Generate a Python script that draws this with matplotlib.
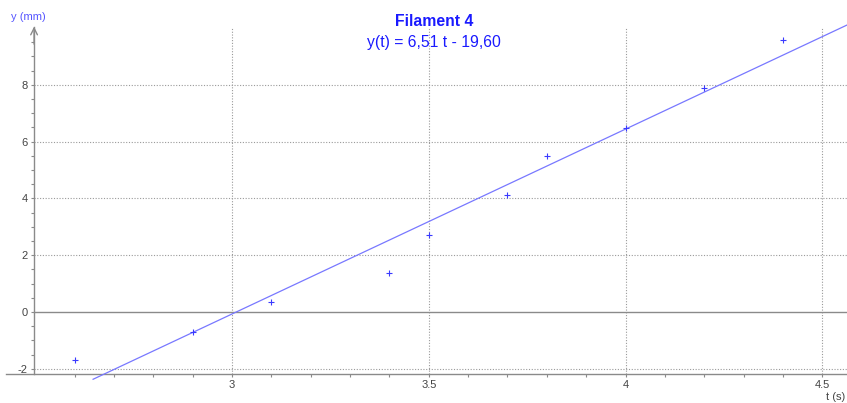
import matplotlib
matplotlib.use("Agg")
import matplotlib.pyplot as plt
import numpy as np
from matplotlib.ticker import FixedLocator

plt.rcParams['font.family'] = ['Liberation Sans', 'DejaVu Sans']

# Data
t_vals = [2.6, 2.9, 3.1, 3.4, 3.5, 3.7, 3.8, 4.0, 4.2, 4.4]
y_vals = [-1.69, -0.70, 0.35, 1.37, 2.71, 4.12, 5.49, 6.48, 7.89, 9.58]
slope = 6.51
intercept = -19.60
fit_t_range = [2.647, 4.563]
x_major = [3, 3.5, 4, 4.5]
x_labels = ["3", "3.5", "4", "4.5"]
x_minor = [2.6, 2.7, 2.8, 2.9, 3.1, 3.2, 3.3, 3.4, 3.6, 3.7, 3.8, 3.9,
           4.1, 4.2, 4.3, 4.4]
y_major = [-2, 0, 2, 4, 6, 8]
y_labels = ["-2", "0", "2", "4", "6", "8"]
y_minor = [-1.5, -1, -0.5, 0.5, 1, 1.5, 2.5, 3, 3.5, 4.5, 5, 5.5,
           6.5, 7, 7.5, 8.5, 9, 9.5]
title = "Filament 4"
equation = "y(t) = 6,51 t - 19,60"

W, H = 847, 403
fig = plt.figure(figsize=(W / 100, H / 100), dpi=100)
ax = fig.add_axes([0, 0, 1, 1])

xmin, xmax = 2.4104, 4.5629
ymin, ymax = -3.204, 10.986
ax.set_xlim(xmin, xmax)
ax.set_ylim(ymin, ymax)

x_axis_y = -2.18
y_axis_x = 2.497
y_top = 10.03

axis_col = '#8a8a8a'
grid_col = '#9a9a9a'
label_col = '#444444'

# grid lines
for xv in x_major:
    ax.plot([xv, xv], [x_axis_y, y_top], color=grid_col, lw=0.8, ls=(0, (1, 1.5)), zorder=1)
for yv in y_major:
    if yv == 0:
        ax.plot([y_axis_x, xmax], [0, 0], color=axis_col, lw=1.0, zorder=1)
    else:
        ax.plot([y_axis_x, xmax], [yv, yv], color=grid_col, lw=0.8, ls=(0, (1, 1.5)), zorder=1)

# spines as axes
for s in ['top', 'right']:
    ax.spines[s].set_visible(False)
ax.spines['left'].set_position(('data', y_axis_x))
ax.spines['bottom'].set_position(('data', x_axis_y))
ax.spines['left'].set_bounds(x_axis_y, y_top)
ax.spines['bottom'].set_bounds(2.425, xmax)
ax.spines['left'].set_color(axis_col)
ax.spines['bottom'].set_color(axis_col)
ax.spines['left'].set_linewidth(1.0)
ax.spines['bottom'].set_linewidth(1.0)

ax.xaxis.set_major_locator(FixedLocator(x_major))
ax.set_xticklabels(x_labels)
ax.xaxis.set_minor_locator(FixedLocator(x_minor))
ax.yaxis.set_major_locator(FixedLocator(y_major))
ax.set_yticklabels(y_labels)
ax.yaxis.set_minor_locator(FixedLocator(y_minor))
ax.tick_params(axis='both', which='both', direction='out', length=2.5, width=0.8,
               color=axis_col, labelcolor=label_col, labelsize=8)
ax.tick_params(axis='x', which='major', pad=2)
ax.tick_params(axis='y', which='major', pad=2)

# arrow on y axis
ax.annotate('', xy=(y_axis_x, y_top + 0.02), xytext=(y_axis_x, y_top - 0.6),
            arrowprops=dict(arrowstyle='->', color=axis_col, lw=1.0,
                            mutation_scale=12, shrinkA=0, shrinkB=0))

# fit line
ft = np.array(fit_t_range)
ax.plot(ft, slope * ft + intercept, color='#7878ff', lw=0.9, zorder=3, clip_on=False)

# data points
ax.plot(t_vals, y_vals, ls='none', marker='+', ms=5, mew=0.8, color='#3a3aff', zorder=4)

# texts
fig.text(434 / W, 1 - 22 / H, title, ha='center', va='center', color='#1a1aff',
         fontsize=11.3, fontweight='bold')
fig.text(434 / W, 1 - 42 / H, equation, ha='center', va='center', color='#1a1aff',
         fontsize=11.3)
fig.text(11 / W, 1 - 17 / H, "y (mm)", ha='left', va='center', color='#5555ff', fontsize=8)
fig.text(845 / W, 1 - 397 / H, "t (s)", ha='right', va='center', color=label_col, fontsize=8)

fig.savefig('out.png', dpi=100)
